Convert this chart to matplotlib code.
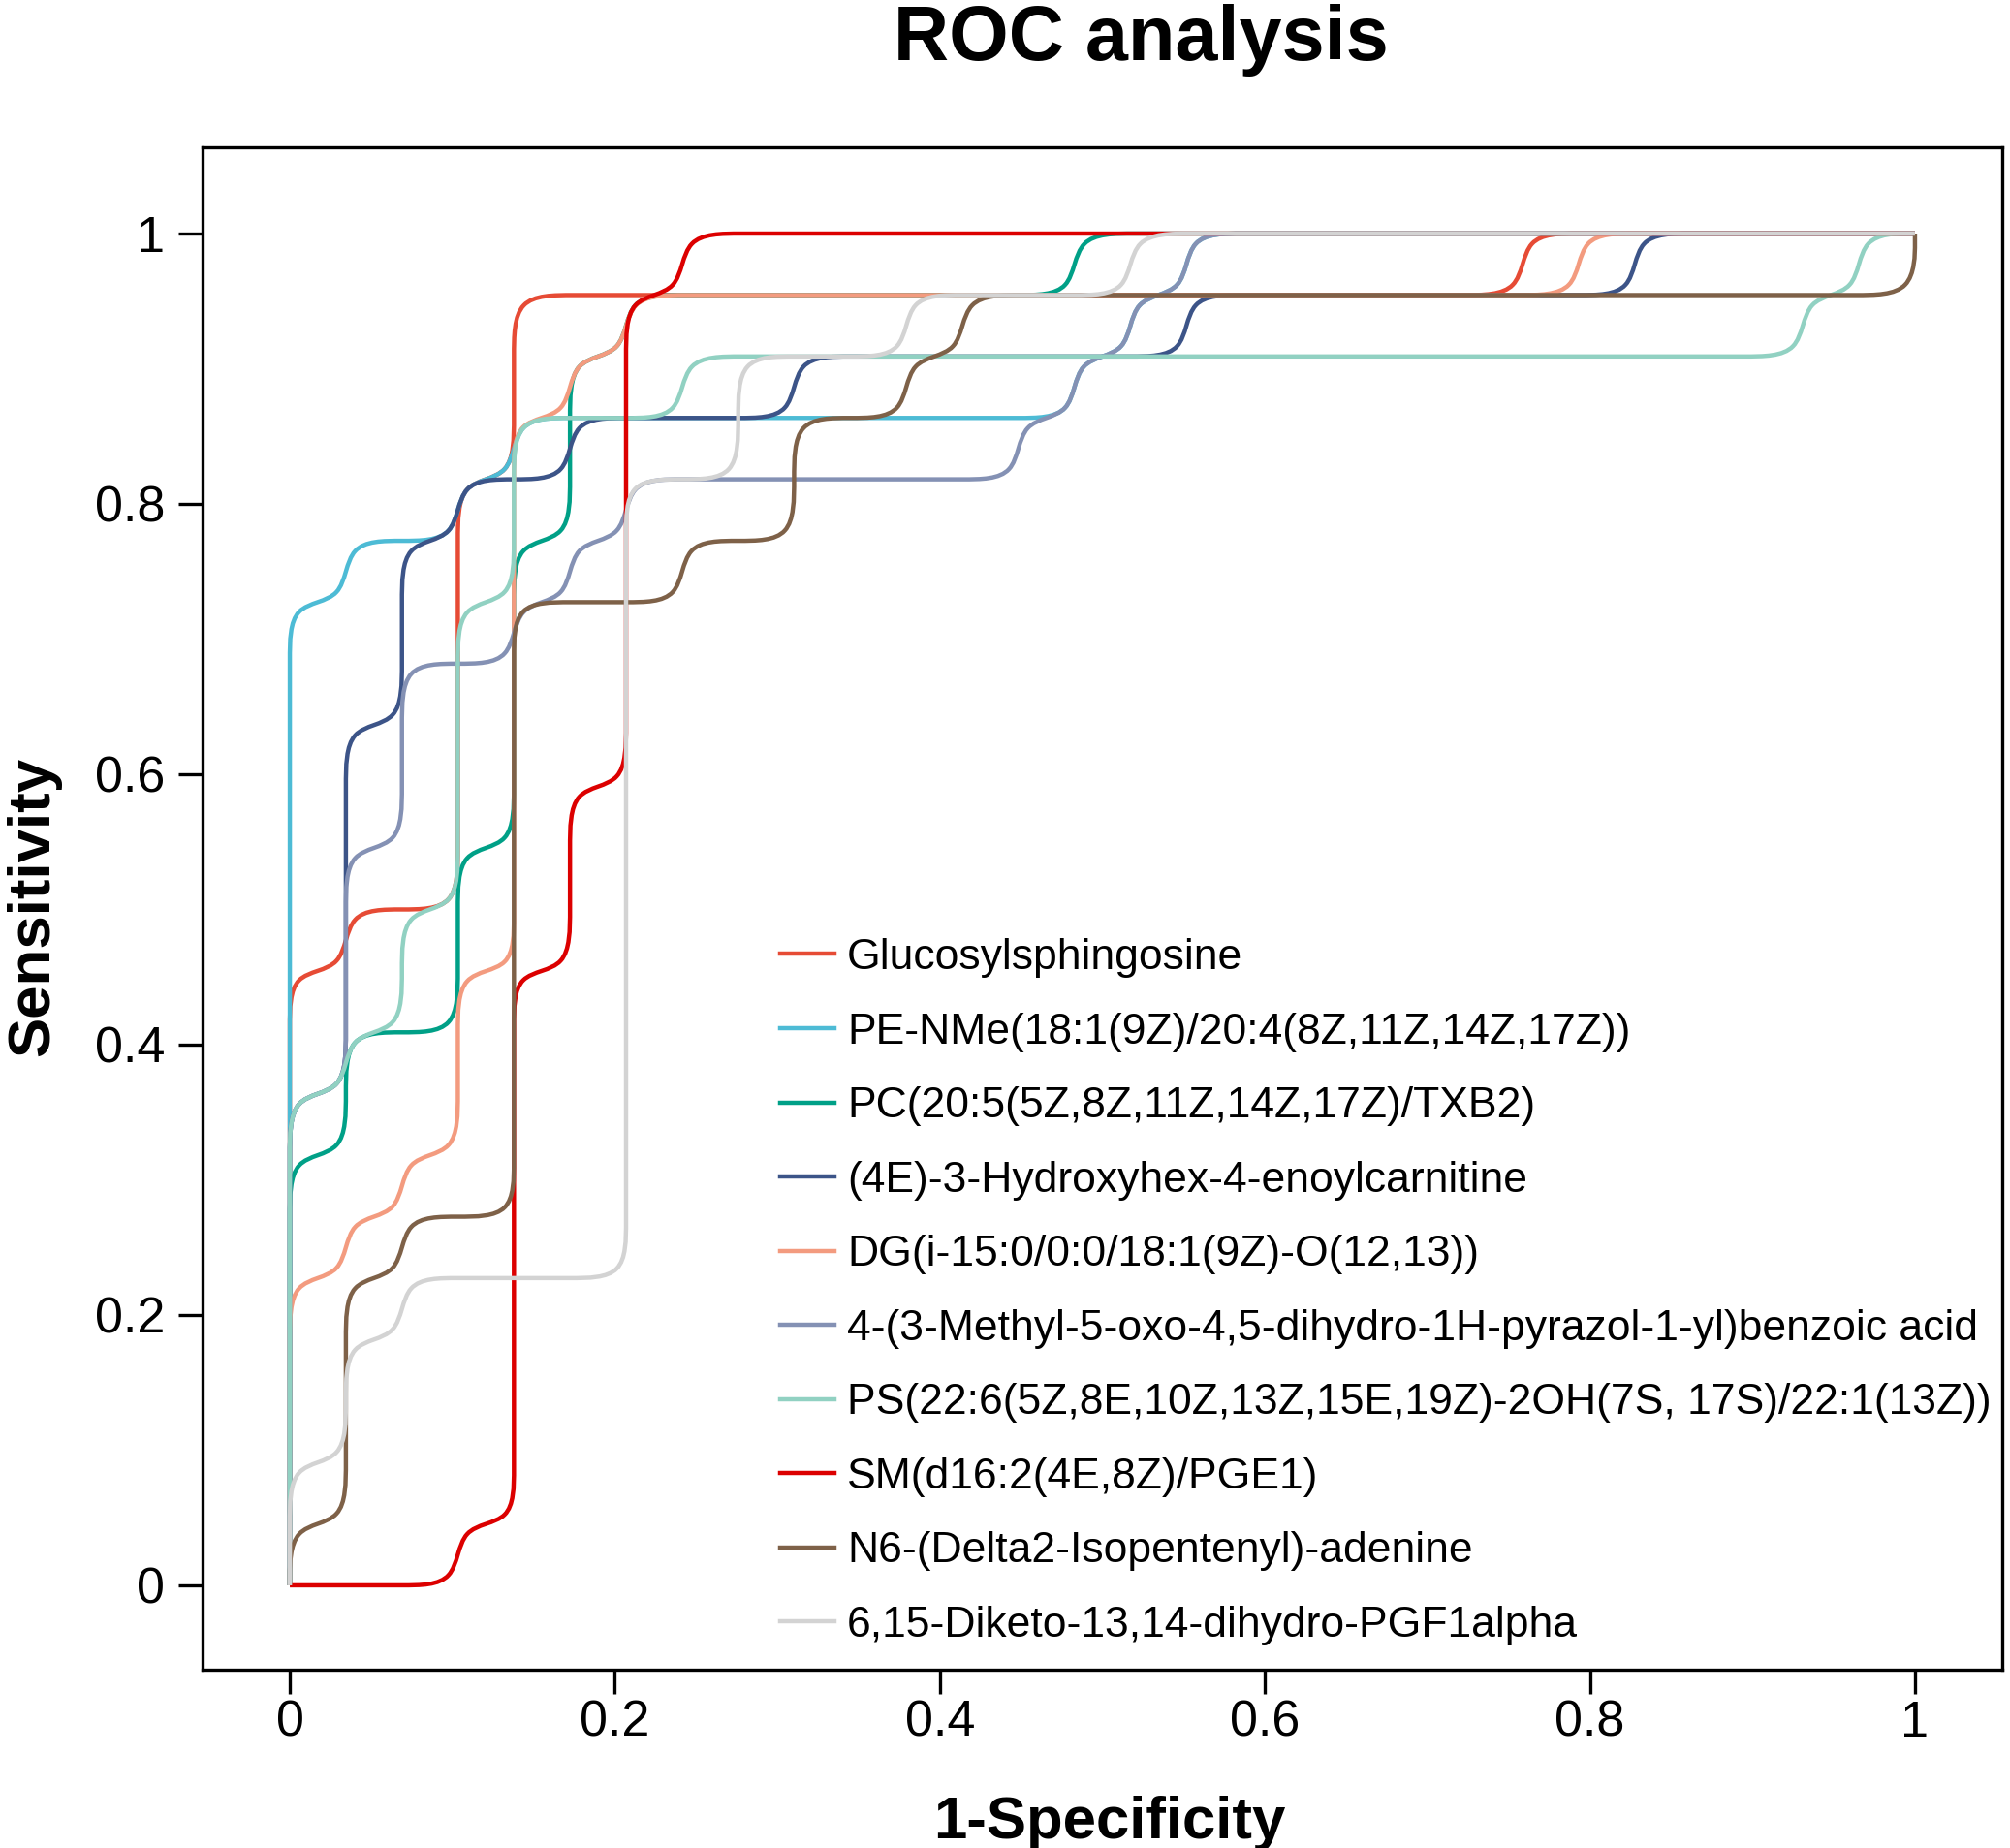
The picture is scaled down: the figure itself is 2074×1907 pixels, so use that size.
import numpy as np
import matplotlib
matplotlib.use("Agg")
import matplotlib.pyplot as plt
from matplotlib.path import Path
from matplotlib.patches import PathPatch
from matplotlib.lines import Line2D

plt.rcParams['font.family'] = ['Liberation Sans', 'DejaVu Sans']

# ---------------- data (ROC corner points) ----------------
labels = [
    "Glucosylsphingosine",
    "PE-NMe(18:1(9Z)/20:4(8Z,11Z,14Z,17Z))",
    "PC(20:5(5Z,8Z,11Z,14Z,17Z)/TXB2)",
    "(4E)-3-Hydroxyhex-4-enoylcarnitine",
    "DG(i-15:0/0:0/18:1(9Z)-O(12,13))",
    "4-(3-Methyl-5-oxo-4,5-dihydro-1H-pyrazol-1-yl)benzoic acid",
    "PS(22:6(5Z,8E,10Z,13Z,15E,19Z)-2OH(7S, 17S)/22:1(13Z))",
    "SM(d16:2(4E,8Z)/PGE1)",
    "N6-(Delta2-Isopentenyl)-adenine",
    "6,15-Diketo-13,14-dihydro-PGF1alpha",
]
colors = ["#E64B35", "#4DBBD5", "#00A087", "#3C5488", "#F39B7F",
          "#8491B4", "#91D1C2", "#DC0000", "#7E6148", "#D3D3D3"]

fpr_gluc = [0, 0, 0.0345, 0.0345, 0.1034, 0.1034, 0.1379, 0.1379, 0.7586, 0.7586, 1]
tpr_gluc = [0, 0.4545, 0.4545, 0.5, 0.5, 0.8182, 0.8182, 0.9545, 0.9545, 1, 1]

fpr_pe = [0, 0, 0.0345, 0.0345, 0.1034, 0.1034, 0.1379, 0.1379, 0.4828, 0.4828, 0.5172, 0.5172, 0.5517, 0.5517, 1]
tpr_pe = [0, 0.7273, 0.7273, 0.7727, 0.7727, 0.8182, 0.8182, 0.8636, 0.8636, 0.9091, 0.9091, 0.9545, 0.9545, 1, 1]

fpr_pc = [0, 0, 0.0345, 0.0345, 0.1034, 0.1034, 0.1379, 0.1379, 0.1724, 0.1724, 0.2069, 0.2069, 0.4828, 0.4828, 1]
tpr_pc = [0, 0.3182, 0.3182, 0.4091, 0.4091, 0.5455, 0.5455, 0.7727, 0.7727, 0.9091, 0.9091, 0.9545, 0.9545, 1, 1]

fpr_4e = [0, 0, 0.0345, 0.0345, 0.0690, 0.0690, 0.1034, 0.1034, 0.1724, 0.1724, 0.3103, 0.3103, 0.5517, 0.5517, 0.8276, 0.8276, 1]
tpr_4e = [0, 0.3636, 0.3636, 0.6364, 0.6364, 0.7727, 0.7727, 0.8182, 0.8182, 0.8636, 0.8636, 0.9091, 0.9091, 0.9545, 0.9545, 1, 1]

fpr_dg = [0, 0, 0.0345, 0.0345, 0.0690, 0.0690, 0.1034, 0.1034, 0.1379, 0.1379, 0.1724, 0.1724, 0.2069, 0.2069, 0.7931, 0.7931, 1]
tpr_dg = [0, 0.2273, 0.2273, 0.2727, 0.2727, 0.3182, 0.3182, 0.4545, 0.4545, 0.8636, 0.8636, 0.9091, 0.9091, 0.9545, 0.9545, 1, 1]

fpr_mpz = [0, 0, 0.0345, 0.0345, 0.0690, 0.0690, 0.1379, 0.1379, 0.1724, 0.1724, 0.2069, 0.2069, 0.4483, 0.4483, 0.4828, 0.4828, 0.5172, 0.5172, 0.5517, 0.5517, 1]
tpr_mpz = [0, 0.3636, 0.3636, 0.5455, 0.5455, 0.6818, 0.6818, 0.7273, 0.7273, 0.7727, 0.7727, 0.8182, 0.8182, 0.8636, 0.8636, 0.9091, 0.9091, 0.9545, 0.9545, 1, 1]

fpr_ps = [0, 0, 0.0345, 0.0345, 0.0690, 0.0690, 0.1034, 0.1034, 0.1379, 0.1379, 0.2414, 0.2414, 0.9310, 0.9310, 0.9655, 0.9655, 1]
tpr_ps = [0, 0.3636, 0.3636, 0.4091, 0.4091, 0.5, 0.5, 0.7273, 0.7273, 0.8636, 0.8636, 0.9091, 0.9091, 0.9545, 0.9545, 1, 1]

fpr_sm = [0, 0.1034, 0.1034, 0.1379, 0.1379, 0.1724, 0.1724, 0.2069, 0.2069, 0.2414, 0.2414, 1]
tpr_sm = [0, 0, 0.0455, 0.0455, 0.4545, 0.4545, 0.5909, 0.5909, 0.9545, 0.9545, 1, 1]

fpr_n6 = [0, 0, 0.0345, 0.0345, 0.0690, 0.0690, 0.1379, 0.1379, 0.2414, 0.2414, 0.3103, 0.3103, 0.3793, 0.3793, 0.4138, 0.4138, 1, 1]
tpr_n6 = [0, 0.0455, 0.0455, 0.2273, 0.2273, 0.2727, 0.2727, 0.7273, 0.7273, 0.7727, 0.7727, 0.8636, 0.8636, 0.9091, 0.9091, 0.9545, 0.9545, 1]

fpr_dk = [0, 0, 0.0345, 0.0345, 0.0690, 0.0690, 0.2069, 0.2069, 0.2759, 0.2759, 0.3793, 0.3793, 0.5172, 0.5172, 1]
tpr_dk = [0, 0.0909, 0.0909, 0.1818, 0.1818, 0.2273, 0.2273, 0.8182, 0.8182, 0.9091, 0.9091, 0.9545, 0.9545, 1, 1]

fprs = [fpr_gluc, fpr_pe, fpr_pc, fpr_4e, fpr_dg, fpr_mpz, fpr_ps, fpr_sm, fpr_n6, fpr_dk]
tprs = [tpr_gluc, tpr_pe, tpr_pc, tpr_4e, tpr_dg, tpr_mpz, tpr_ps, tpr_sm, tpr_n6, tpr_dk]

tick_vals = [0, 0.2, 0.4, 0.6, 0.8, 1]
tick_labels = ["0", "0.2", "0.4", "0.6", "0.8", "1"]

# ---------------- figure ----------------
W, H = 2074, 1907
fig = plt.figure(figsize=(W / 100, H / 100), dpi=100)
ax = fig.add_axes([209 / W, 184 / H, 1857 / W, 1571 / H])
ax.set_xlim(-0.0537, 1.0537)
ax.set_ylim(-0.0624, 1.0638)


def smooth_step_path(ax, fpr, tpr, spacing_px=60.0):
    """Smooth (cubic B-spline style) rendering of an ROC step line,
    computed in display space and returned as a data-space Path."""
    pts = ax.transData.transform(np.column_stack([fpr, tpr]))
    clean = [pts[0]]
    for p in pts[1:]:
        if np.hypot(*(p - clean[-1])) > 1e-6:
            clean.append(p)
    # control polygon: split each straight segment into ~spacing_px pieces
    ctrl = [clean[0]]
    for a, b in zip(clean[:-1], clean[1:]):
        n = max(1, int(round(np.hypot(*(b - a)) / spacing_px)))
        for t in range(1, n + 1):
            ctrl.append(a + (b - a) * t / n)
    ctrl = [ctrl[0], ctrl[0]] + ctrl + [ctrl[-1], ctrl[-1]]
    ctrl = np.array(ctrl)
    verts = []
    codes = []
    for i in range(len(ctrl) - 3):
        b0, b1, b2, b3 = ctrl[i], ctrl[i + 1], ctrl[i + 2], ctrl[i + 3]
        s = (b0 + 4 * b1 + b2) / 6
        c1 = (2 * b1 + b2) / 3
        c2 = (b1 + 2 * b2) / 3
        e = (b1 + 4 * b2 + b3) / 6
        if i == 0:
            verts.append(s)
            codes.append(Path.MOVETO)
        verts += [c1, c2, e]
        codes += [Path.CURVE4] * 3
    vd = ax.transData.inverted().transform(np.array(verts))
    return Path(vd, codes)


for fpr, tpr, c in zip(fprs, tprs, colors):
    path = smooth_step_path(ax, fpr, tpr)
    ax.add_patch(PathPatch(path, facecolor="none", edgecolor=c, lw=3.2,
                           capstyle="butt", joinstyle="round"))

# axes styling
for s in ax.spines.values():
    s.set_linewidth(2.4)
    s.set_color("black")
ax.set_xticks(tick_vals)
ax.set_xticklabels(tick_labels)
ax.set_yticks(tick_vals)
ax.set_yticklabels(tick_labels)
ax.tick_params(axis="both", direction="out", length=18, width=2.4, labelsize=37.5, colors="black")
ax.tick_params(axis="x", pad=4)
ax.tick_params(axis="y", pad=10)

# legend
handles = [Line2D([], [], color=c, lw=3.2) for c in colors]
ax.legend(handles, labels, loc="upper left", bbox_to_anchor=(805 / W, 1 - 968 / H),
          bbox_transform=fig.transFigure, frameon=False, borderpad=0, borderaxespad=0,
          handlelength=1.25, handletextpad=0.3, labelspacing=0.80, fontsize=32)

# titles / labels
fig.text(1177 / W, 1 - 62 / H, "ROC analysis", ha="center", va="baseline",
         fontsize=57, fontweight="bold")
fig.text(1145 / W, 10 / H, "1-Specificity", ha="center", va="baseline",
         fontsize=44.5, fontweight="bold")
fig.text(50 / W, 1 - 935 / H, "Sensitivity", rotation=90, rotation_mode="anchor",
         ha="center", va="baseline", fontsize=44.5, fontweight="bold")

fig.savefig("out.png", dpi=100, facecolor="white")
